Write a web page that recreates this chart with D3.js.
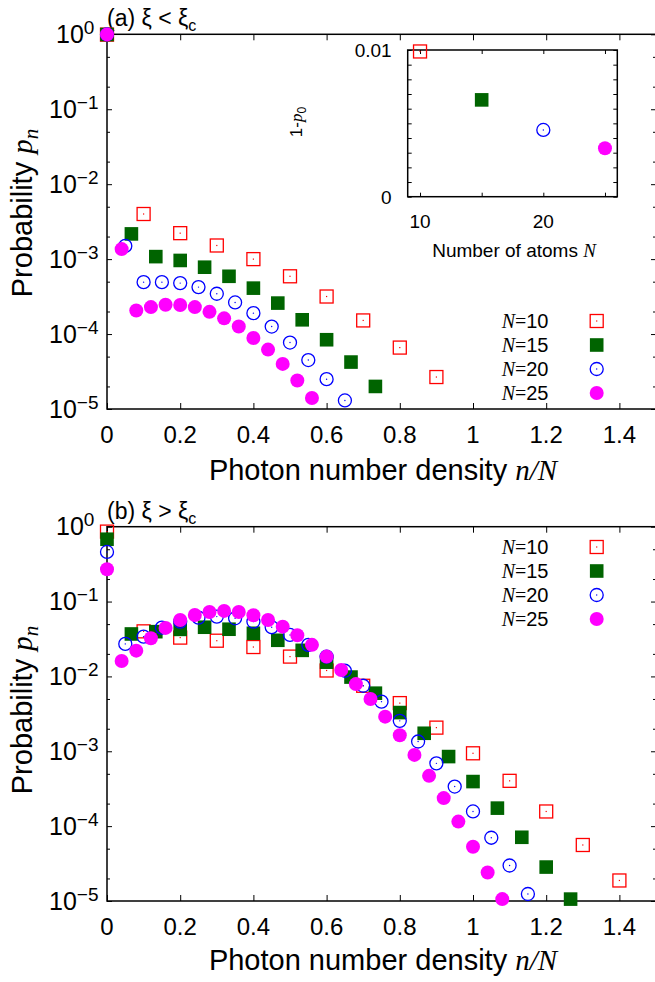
<!DOCTYPE html>
<html>
<head>
<meta charset="utf-8">
<script src="https://cdn.jsdelivr.net/npm/d3@7/dist/d3.min.js"></script>
<style>
  body { margin: 0; background: #fff; }
  svg { display: block; font-family: "Liberation Sans", Arial, sans-serif; }
</style>
</head>
<body>
<svg id="chart" width="655" height="982"></svg>
<script>
// ---- data ----
// p_n for n = 0,1,2,... ; x position is n/N
const atomCounts = [10, 15, 20, 25];

// (a) xi < xi_c
const probA10 = [0.99, 4.0e-3, 2.22e-3, 1.52e-3, 1.0e-3, 5.9e-4, 3.17e-4, 1.52e-4, 6.6e-5, 2.67e-5];
const probA15 = [0.993, 2.17e-3, 1.08e-3, 9.6e-4, 7.8e-4, 5.9e-4, 4.1e-4, 2.59e-4, 1.55e-4, 8.4e-5, 4.23e-5, 2.0e-5];
const probA20 = [0.9955, 1.5e-3, 4.93e-4, 4.93e-4, 4.79e-4, 4.23e-4, 3.45e-4, 2.64e-4, 1.9e-4, 1.26e-4, 7.7e-5, 4.5e-5, 2.5e-5, 1.3e-5];
const probA25 = [0.9967, 1.36e-3, 2.06e-4, 2.29e-4, 2.46e-4, 2.44e-4, 2.29e-4, 1.98e-4, 1.62e-4, 1.26e-4, 8.85e-5, 6.2e-5, 4.0e-5, 2.4e-5, 1.4e-5];

// (b) xi > xi_c
const probB10 = [0.86, 4.0e-2, 3.3e-2, 3.0e-2, 2.47e-2, 1.84e-2, 1.2e-2, 7.5e-3, 4.4e-3, 2.07e-3, 9.4e-4, 4.03e-4, 1.57e-4, 5.6e-5, 1.88e-5];
const probB15 = [0.68, 3.69e-2, 3.96e-2, 4.25e-2, 4.54e-2, 4.27e-2, 3.77e-2, 3.04e-2, 2.23e-2, 1.55e-2, 9.8e-3, 5.97e-3, 3.29e-3, 1.74e-3, 8.5e-4, 3.94e-4, 1.74e-4, 7.1e-5, 2.84e-5, 1.06e-5];
const probB20 = [0.46, 2.72e-2, 3.4e-2, 4.49e-2, 5.4e-2, 6.1e-2, 6.3e-2, 5.98e-2, 5.4e-2, 4.54e-2, 3.58e-2, 2.64e-2, 1.84e-2, 1.19e-2, 7.5e-3, 4.6e-3, 2.55e-3, 1.35e-3, 6.9e-4, 3.38e-4, 1.57e-4, 7.0e-5, 2.98e-5, 1.24e-5];
const probB25 = [0.27, 1.61e-2, 2.21e-2, 3.24e-2, 4.45e-2, 5.68e-2, 6.62e-2, 7.26e-2, 7.5e-2, 7.26e-2, 6.56e-2, 5.68e-2, 4.62e-2, 3.55e-2, 2.64e-2, 1.84e-2, 1.22e-2, 7.9e-3, 5.0e-3, 2.9e-3, 1.64e-3, 8.95e-4, 4.7e-4, 2.37e-4, 1.15e-4, 5.3e-5, 2.4e-5, 1.06e-5];

// inset: 1 - p_0 vs N
const oneMinusP0 = [0.0099, 0.0066, 0.00455, 0.0033];

// ticks
const xTicks = [0, 0.2, 0.4, 0.6, 0.8, 1, 1.2, 1.4];
const xTickLabels = ["0", "0.2", "0.4", "0.6", "0.8", "1", "1.2", "1.4"];
const yMajor = [1, 1e-1, 1e-2, 1e-3, 1e-4, 1e-5];
const yExponents = ["0", "\u22121", "\u22122", "\u22123", "\u22124", "\u22125"];
const yMinor = [0.5, 0.2, 0.05, 0.02, 0.005, 0.002, 5e-4, 2e-4, 5e-5, 2e-5];
const insetXTicks = [10, 15, 20, 25];
const insetXLabels = [10, 20];
const insetYMinor = d3.range(0, 11).map(i => i / 1000);

// marker styles per series (same order as atomCounts)
const markerKinds = ["sqOpen", "sqFill", "circOpen", "circFill"];
const markerColors = ["#ff0000", "#006400", "#0000ff", "#ff00ff"];

const svg = d3.select("#chart");
const plotLeft = 107, plotRight = 656;
const serif = "'Liberation Serif', 'Times New Roman', serif";

function addMarker(g, kind, color) {
  if (kind === "sqOpen") {
    g.append("rect").attr("x", -6.5).attr("y", -6.5).attr("width", 13).attr("height", 13)
      .attr("fill", "none").attr("stroke", color).attr("stroke-width", 1.3);
    g.append("rect").attr("x", -0.6).attr("y", -0.6).attr("width", 1.2).attr("height", 1.2).attr("fill", color);
  } else if (kind === "sqFill") {
    g.append("rect").attr("x", -6.8).attr("y", -6.8).attr("width", 13.6).attr("height", 13.6).attr("fill", color);
  } else if (kind === "circOpen") {
    g.append("circle").attr("r", 6.5).attr("fill", "none").attr("stroke", color).attr("stroke-width", 1.3);
    g.append("circle").attr("r", 0.7).attr("fill", color);
  } else {
    g.append("circle").attr("r", 7).attr("fill", color);
  }
}

function legendLabel(text, n) {
  text.append("tspan").attr("font-family", serif).attr("font-style", "italic").text("N");
  text.append("tspan").attr("font-family", serif).text("=");
  text.append("tspan").text(n);
}

function drawPanel(opts) {
  const { top, bottom, series, tag, relation, legendTop, yTitleY, xTitleY } = opts;

  const x = d3.scaleLinear().domain([0, 1.5]).range([plotLeft, plotRight]);
  const y = d3.scaleLog().domain([1e-5, 1]).range([bottom, top]);

  const g = svg.append("g");

  // frame
  g.append("rect")
    .attr("x", plotLeft).attr("y", top)
    .attr("width", plotRight - plotLeft).attr("height", bottom - top)
    .attr("fill", "none").attr("stroke", "#000").attr("stroke-width", 1.5);

  const tidy = sel => {
    sel.select(".domain").remove();
    sel.selectAll("line").attr("stroke", "#000");
  };

  // inward ticks on all four sides
  g.append("g").attr("transform", `translate(0,${bottom})`)
    .call(d3.axisBottom(x).tickValues(xTicks).tickSize(-6).tickFormat("")).call(tidy);
  g.append("g").attr("transform", `translate(0,${top})`)
    .call(d3.axisTop(x).tickValues(xTicks).tickSize(-6).tickFormat("")).call(tidy);
  g.append("g").attr("transform", `translate(${plotLeft},0)`)
    .call(d3.axisLeft(y).tickValues(yMajor).tickSize(-5).tickFormat("")).call(tidy);
  g.append("g").attr("transform", `translate(${plotLeft},0)`)
    .call(d3.axisLeft(y).tickValues(yMinor).tickSize(-3).tickFormat("")).call(tidy);
  g.append("g").attr("transform", `translate(${plotRight},0)`)
    .call(d3.axisRight(y).tickValues(yMajor).tickSize(-5).tickFormat("")).call(tidy);
  g.append("g").attr("transform", `translate(${plotRight},0)`)
    .call(d3.axisRight(y).tickValues(yMinor).tickSize(-3).tickFormat("")).call(tidy);

  // x tick labels
  g.selectAll("text.xl").data(xTicks).join("text")
    .attr("class", "xl")
    .attr("x", d => x(d)).attr("y", bottom + 34)
    .attr("text-anchor", "middle").attr("font-size", 24)
    .text((d, i) => xTickLabels[i]);

  // y tick labels 10^k
  yMajor.forEach((v, i) => {
    const t = g.append("text")
      .attr("x", v === 1 ? 56 : 49).attr("y", y(v) + 8.5)
      .attr("font-size", 25);
    t.append("tspan").text("10");
    t.append("tspan").attr("dy", -9).attr("font-size", 19).text(yExponents[i]);
  });

  // titles
  const xt = g.append("text")
    .attr("x", 383).attr("y", xTitleY)
    .attr("text-anchor", "middle").attr("font-size", 29);
  xt.append("tspan").text("Photon number density ");
  xt.append("tspan").attr("font-family", serif).attr("font-style", "italic").text("n/N");

  const yt = g.append("text")
    .attr("transform", `translate(32,${yTitleY}) rotate(-90)`)
    .attr("text-anchor", "middle").attr("font-size", 29);
  yt.append("tspan").text("Probability ");
  yt.append("tspan").attr("font-family", serif).attr("font-style", "italic").text("p");
  yt.append("tspan").attr("font-family", serif).attr("font-style", "italic")
    .attr("font-size", 21).attr("dy", 6).text("n");

  const pt = g.append("text").attr("x", 107).attr("y", top - 8).attr("font-size", 23);
  pt.append("tspan").text(`(${tag}) ξ ${relation} ξ`);
  pt.append("tspan").attr("font-size", 16).attr("dy", 5).text("c");

  // data points
  series.forEach((vals, s) => {
    const N = atomCounts[s];
    g.append("g").selectAll("g").data(vals.map((p, n) => ({ r: n / N, p })))
      .join("g")
      .attr("transform", d => `translate(${x(d.r)},${y(d.p)})`)
      .each(function () { addMarker(d3.select(this), markerKinds[s], markerColors[s]); });
  });

  // legend
  atomCounts.forEach((N, s) => {
    const cy = legendTop + s * 24;
    const t = g.append("text").attr("x", 548.5).attr("y", cy + 7)
      .attr("text-anchor", "end").attr("font-size", 20);
    legendLabel(t, N);
    const m = g.append("g").attr("transform", `translate(596.7,${cy})`);
    addMarker(m, markerKinds[s], markerColors[s]);
  });

  return { x, y };
}

drawPanel({
  top: 34.3, bottom: 409, series: [probA10, probA15, probA20, probA25],
  tag: "a", relation: "<", legendTop: 321, yTitleY: 213, xTitleY: 480
});
drawPanel({
  top: 526.7, bottom: 901, series: [probB10, probB15, probB20, probB25],
  tag: "b", relation: ">", legendTop: 547, yTitleY: 710, xTitleY: 970
});

// ---- inset: 1 - p0 vs number of atoms ----
(function () {
  const L = 407.7, R = 617.3, T = 50, B = 196.7;
  const xi = d3.scaleLinear().domain([9, 26]).range([L, R]);
  const yi = d3.scaleLinear().domain([0, 0.01]).range([B, T]);
  const g = svg.append("g");

  g.append("rect").attr("x", L).attr("y", T).attr("width", R - L).attr("height", B - T)
    .attr("fill", "#fff").attr("stroke", "#000").attr("stroke-width", 1.5);

  const tidy = sel => {
    sel.select(".domain").remove();
    sel.selectAll("line").attr("stroke", "#000");
  };
  g.append("g").attr("transform", `translate(0,${B})`)
    .call(d3.axisBottom(xi).tickValues(insetXTicks).tickSize(-4).tickFormat("")).call(tidy);
  g.append("g").attr("transform", `translate(0,${T})`)
    .call(d3.axisTop(xi).tickValues(insetXTicks).tickSize(-4).tickFormat("")).call(tidy);
  g.append("g").attr("transform", `translate(${L},0)`)
    .call(d3.axisLeft(yi).tickValues(insetYMinor).tickSize(-4).tickFormat("")).call(tidy);
  g.append("g").attr("transform", `translate(${R},0)`)
    .call(d3.axisRight(yi).tickValues(insetYMinor).tickSize(-4).tickFormat("")).call(tidy);

  g.selectAll("text.ixl").data(insetXLabels).join("text")
    .attr("class", "ixl")
    .attr("x", d => xi(d)).attr("y", 228)
    .attr("text-anchor", "middle").attr("font-size", 19).text(d => d);

  g.append("text").attr("x", 391.7).attr("y", yi(0.01) + 7).attr("text-anchor", "end")
    .attr("font-size", 19).text("0.01");
  g.append("text").attr("x", 391.7).attr("y", yi(0) + 7).attr("text-anchor", "end")
    .attr("font-size", 19).text("0");

  const xt = g.append("text").attr("x", 514).attr("y", 257)
    .attr("text-anchor", "middle").attr("font-size", 19);
  xt.append("tspan").text("Number of atoms ");
  xt.append("tspan").attr("font-family", serif).attr("font-style", "italic").text("N");

  const yt = g.append("text").attr("transform", "translate(302,122) rotate(-90)")
    .attr("text-anchor", "middle").attr("font-size", 17);
  yt.append("tspan").text("1-");
  yt.append("tspan").attr("font-family", serif).attr("font-style", "italic").text("p");
  yt.append("tspan").attr("font-size", 12).attr("dy", 4).text("0");

  oneMinusP0.forEach((v, s) => {
    const m = g.append("g").attr("transform", `translate(${xi(atomCounts[s])},${yi(v)})`);
    addMarker(m, markerKinds[s], markerColors[s]);
  });
})();
</script>
</body>
</html>
